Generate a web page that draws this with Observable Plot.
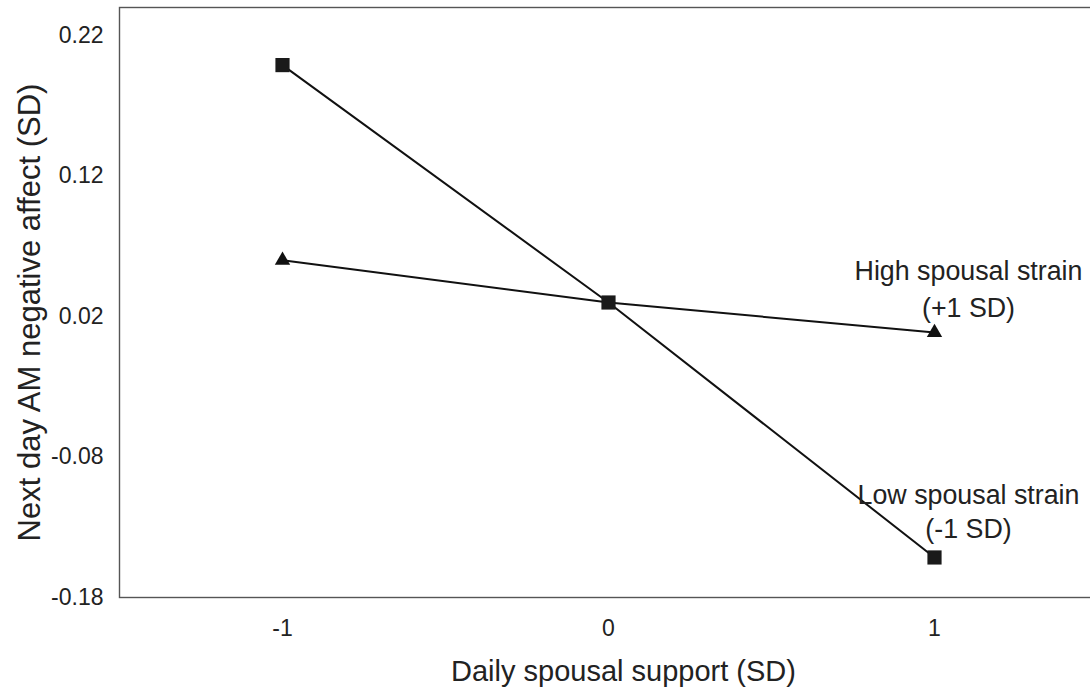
<!DOCTYPE html>
<html>
<head>
<meta charset="utf-8">
<script src="https://cdn.jsdelivr.net/npm/d3@7"></script>
<script src="https://cdn.jsdelivr.net/npm/@observablehq/plot@0.6"></script>
<style>
  html, body { margin: 0; padding: 0; background: #fff; overflow: hidden; }
  svg { font-family: "Liberation Sans", Arial, sans-serif; }
</style>
</head>
<body>
<div id="chart"></div>
<script>
const support = [-1, 0, 1];
const lowStrain = [0.199, 0.030, -0.1515];
const highStrain = [0.060, 0.030, 0.0086];
const yTicks = [-0.18, -0.08, 0.02, 0.12, 0.22];
const xTicks = [-1, 0, 1];
const highLabel = "High spousal strain\n(+1 SD)";
const lowLabel = "Low spousal strain\n(-1 SD)";

const low = support.map((x, i) => ({x, y: lowStrain[i]}));
const high = support.map((x, i) => ({x, y: highStrain[i]}));

const chart = Plot.plot({
  width: 1100,
  height: 694,
  marginLeft: 119,
  marginRight: 3,
  marginTop: 7,
  marginBottom: 97,
  style: {fontFamily: "Liberation Sans, Arial, sans-serif", background: "#fff", maxWidth: "none"},
  x: {domain: [-1.5, 1.5], ticks: xTicks, tickFormat: d => String(d), tickSize: 0, tickPadding: 22,
      label: "Daily spousal support (SD)", labelAnchor: "center", labelArrow: "none", labelOffset: 86},
  y: {domain: [-0.18, 0.24], ticks: yTicks, tickFormat: d => d.toFixed(2), tickSize: 0, tickPadding: 16,
      label: "Next day AM negative affect (SD)", labelAnchor: "center", labelArrow: "none", labelOffset: 102},
  marks: [
    Plot.frame({stroke: "#555", strokeWidth: 1.4}),
    Plot.line(high, {x: "x", y: "y", stroke: "#111", strokeWidth: 2}),
    Plot.line(low, {x: "x", y: "y", stroke: "#111", strokeWidth: 2}),
    Plot.dot(high, {x: "x", y: "y", filter: d => d.x !== 0, symbol: "triangle", r: 5.7, fill: "#111", stroke: "none"}),
    Plot.dot(low, {x: "x", y: "y", symbol: "square", r: 8, fill: "#1a1a1a", stroke: "none"}),
    Plot.text([high[2]], {x: "x", y: "y", text: () => highLabel, dx: 34, dy: -45.5, fontSize: 26.8, lineHeight: 1.38, fill: "#222", textAnchor: "middle"}),
    Plot.text([low[2]], {x: "x", y: "y", text: () => lowLabel, dx: 34, dy: -47, fontSize: 26.8, lineHeight: 1.27, fill: "#222", textAnchor: "middle"})
  ]
});

const svg = d3.select(chart);
svg.selectAll("[aria-label='x-axis tick label'] text, [aria-label='y-axis tick label'] text")
  .style("font-size", "23px").attr("fill", "#222");
svg.selectAll("[aria-label='x-axis label'] text").style("font-size", "29px").attr("fill", "#222");
svg.selectAll("[aria-label='y-axis label'] text").style("font-size", "31px").attr("fill", "#222");
function shift(sel, dx, dy) {
  sel.each(function() {
    const t = this.getAttribute("transform") || "";
    this.setAttribute("transform", `translate(${dx},${dy}) ${t}`);
  });
}
shift(svg.select("[aria-label='x-axis label']"), 15, -3);
shift(svg.select("[aria-label='y-axis label']"), 0, 10);
document.getElementById("chart").appendChild(chart);
</script>
</body>
</html>
